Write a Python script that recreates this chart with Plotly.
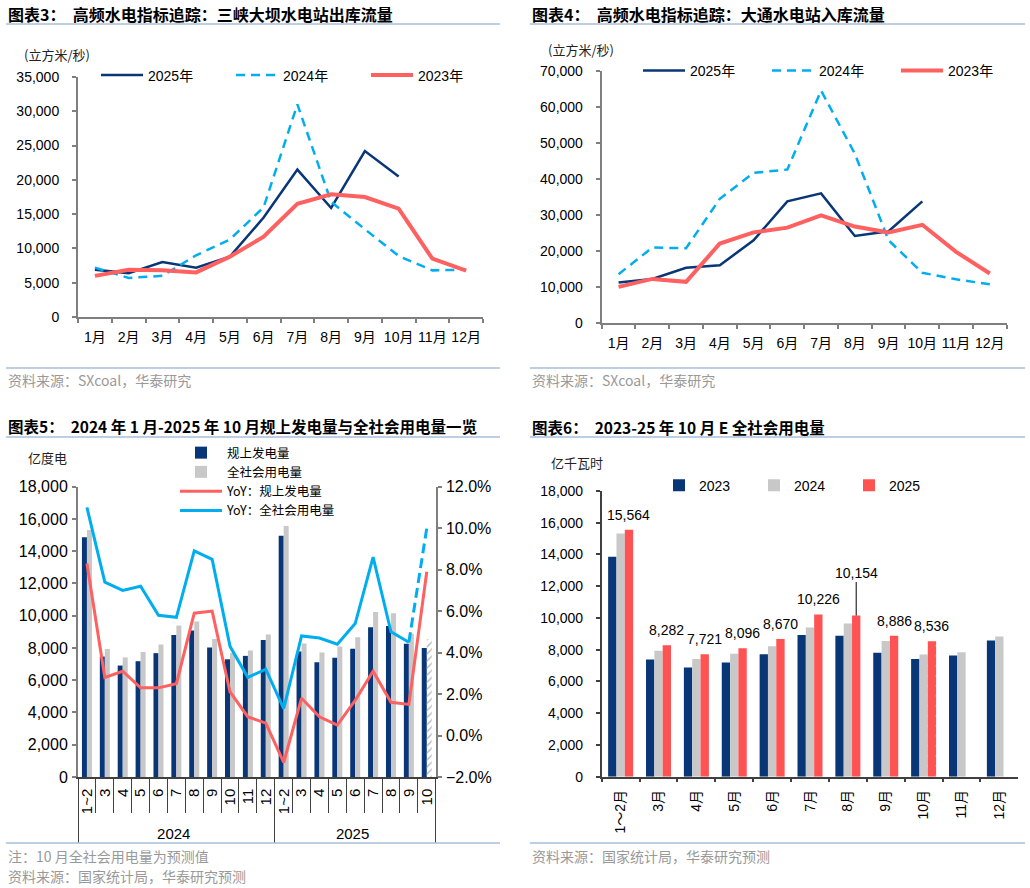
import plotly.graph_objects as go

W, H = 1030, 888
def px(x): return x / W
def py(y): return 1 - y / H

# ---------------- data ----------------
months = ["1月", "2月", "3月", "4月", "5月", "6月", "7月", "8月", "9月", "10月", "11月", "12月"]

# 图表3 三峡出库流量 (立方米/秒)
sx_2025 = [6900, 6400, 8000, 7200, 8800, 14500, 21500, 15900, 24200, 20500]
sx_2024 = [7200, 5700, 6000, 9000, 11300, 16000, 31000, 16800, 12800, 8900, 6800, 6900]
sx_2023 = [6000, 6900, 6800, 6500, 8800, 11700, 16500, 17900, 17500, 15800, 8500, 6750]

# 图表4 大通入库流量 (立方米/秒)
dt_2025 = [11300, 12300, 15400, 16100, 23000, 33800, 36000, 24200, 25500, 33800]
dt_2024 = [13600, 21000, 20800, 34500, 41700, 42600, 64500, 47000, 23000, 14000, 12200, 10800]
dt_2023 = [10100, 12300, 11500, 22100, 25200, 26500, 29900, 26800, 25200, 27300, 19800, 13800]

# 图表5
p5_years = ["2024"] * 11 + ["2025"] * 9
p5_months = ["1~2", "3", "4", "5", "6", "7", "8", "9", "10", "11", "12",
             "1~2", "3", "4", "5", "6", "7", "8", "9", "10"]
gen = [14870, 7470, 6910, 7180, 7680, 8810, 9080, 8030, 7300, 7510, 8500,
       14960, 7780, 7120, 7400, 7950, 9290, 9370, 8260, 8000]
cons = [15316, 7941, 7412, 7751, 8215, 9396, 9649, 8551, 7695, 7845, 8834,
        15564, 8282, 7721, 8096, 8670, 10226, 10154, 8886, 8536]
yoy_gen = [8.3, 2.8, 3.1, 2.3, 2.3, 2.5, 5.9, 6.0, 2.1, 0.9, 0.6,
           -1.3, 1.8, 0.9, 0.5, 1.7, 3.1, 1.6, 1.5, 7.9]
yoy_cons = [11.0, 7.4, 7.0, 7.2, 5.8, 5.7, 8.9, 8.5, 4.3, 2.8, 3.2,
            1.3, 4.8, 4.7, 4.4, 5.4, 8.6, 5.0, 4.5, 10.0]

# 图表6 全社会用电量 (亿千瓦时)
p6_cats = ["1～2月", "3月", "4月", "5月", "6月", "7月", "8月", "9月", "10月", "11月", "12月"]
c2023 = [13850, 7390, 6880, 7200, 7720, 8930, 8880, 7810, 7420, 7640, 8580]
c2024 = [15316, 7941, 7412, 7751, 8215, 9396, 9649, 8551, 7695, 7845, 8834]
c2025 = [15564, 8282, 7721, 8096, 8670, 10226, 10154, 8886, 8536, None, None]

# ---------------- styles ----------------
NAVY = "#083677"
LBLUE = "#00AEEF"
RED = "#FF6060"
REDBAR = "#FF5252"
GREY = "#C8C8C8"
AXC = "#7F7F7F"
FONT = "Liberation Sans, Arial, Noto Sans CJK SC"
CJK = "Noto Sans CJK SC, Liberation Sans"

fig = go.Figure()

# ---- Panel 1 ----
fig.add_trace(go.Scatter(x=months[:len(sx_2025)], y=sx_2025, name="2025年", mode="lines",
                         line=dict(color=NAVY, width=2.5), xaxis="x", yaxis="y", legend="legend"))
fig.add_trace(go.Scatter(x=months, y=sx_2024, name="2024年", mode="lines",
                         line=dict(color=LBLUE, width=2.5, dash="9px,6px"), xaxis="x", yaxis="y", legend="legend"))
fig.add_trace(go.Scatter(x=months, y=sx_2023, name="2023年", mode="lines",
                         line=dict(color=RED, width=4), xaxis="x", yaxis="y", legend="legend"))

# ---- Panel 2 ----
fig.add_trace(go.Scatter(x=months[:len(dt_2025)], y=dt_2025, name="2025年", mode="lines",
                         line=dict(color=NAVY, width=2.5), xaxis="x2", yaxis="y2", legend="legend2"))
fig.add_trace(go.Scatter(x=months, y=dt_2024, name="2024年", mode="lines",
                         line=dict(color=LBLUE, width=2.5, dash="9px,6px"), xaxis="x2", yaxis="y2", legend="legend2"))
fig.add_trace(go.Scatter(x=months, y=dt_2023, name="2023年", mode="lines",
                         line=dict(color=RED, width=4), xaxis="x2", yaxis="y2", legend="legend2"))

# ---- Panel 3 ----
p5_x = [p5_years, p5_months]
n5 = len(p5_months)
fig.add_trace(go.Bar(x=p5_x, y=gen, name="规上发电量", marker=dict(color=NAVY, line=dict(width=0)),
                     width=0.28, offset=-0.28, xaxis="x3", yaxis="y3", legend="legend3"))
fig.add_trace(go.Bar(x=p5_x, y=cons, name="全社会用电量",
                     marker=dict(color=GREY, line=dict(width=0),
                                 pattern=dict(shape=[""] * (n5 - 1) + ["/"], size=5, solidity=0.3,
                                              fgcolor="#BDBDBD", fillmode="replace")),
                     width=0.28, offset=0.0, xaxis="x3", yaxis="y3", legend="legend3"))
fig.add_trace(go.Scatter(x=p5_x, y=yoy_gen, name="YoY：规上发电量", mode="lines",
                         line=dict(color=RED, width=3), xaxis="x3", yaxis="y4", legend="legend3"))
fig.add_trace(go.Scatter(x=[p5_years[:-1], p5_months[:-1]], y=yoy_cons[:-1], name="YoY：全社会用电量", mode="lines",
                         line=dict(color=LBLUE, width=3), xaxis="x3", yaxis="y4", legend="legend3"))
fig.add_trace(go.Scatter(x=[p5_years[-2:], p5_months[-2:]], y=yoy_cons[-2:], name="YoY：全社会用电量", mode="lines",
                         line=dict(color=LBLUE, width=3, dash="10px,5px"), xaxis="x3", yaxis="y4",
                         showlegend=False, legend="legend3"))

# ---- Panel 4 ----
BW = 0.22
fig.add_trace(go.Bar(x=p6_cats, y=c2023, name="2023", marker=dict(color=NAVY, line=dict(width=0)),
                     width=BW, offset=-1.5 * BW, xaxis="x4", yaxis="y5", legend="legend4"))
fig.add_trace(go.Bar(x=p6_cats, y=c2024, name="2024", marker=dict(color=GREY, line=dict(width=0)),
                     width=BW, offset=-0.5 * BW, xaxis="x4", yaxis="y5", legend="legend4"))
fig.add_trace(go.Bar(x=p6_cats, y=c2025, name="2025",
                     marker=dict(color=REDBAR, line=dict(width=0),
                                 pattern=dict(shape=["" if c != "10月" else "." for c in p6_cats],
                                              size=10, solidity=0.04, fgcolor="white", fillmode="overlay")),
                     width=BW, offset=0.5 * BW, xaxis="x4", yaxis="y5", legend="legend4"))

# ---------------- axes ----------------
tickfont = dict(family=FONT, size=14, color="#000")

def yax(domain, rng, dtick, anchor, **kw):
    d = dict(domain=domain, range=rng, dtick=dtick, anchor=anchor, showgrid=False, zeroline=False,
             showline=True, linecolor=AXC, linewidth=2, ticks="outside", ticklen=4, tickcolor=AXC,
             tickwidth=1.5, tickfont=tickfont, tickformat=",", ticklabelstandoff=10, automargin=False)
    d.update(kw)
    return d

def xcat(domain, anchor, **kw):
    d = dict(domain=domain, anchor=anchor, type="category", range=[-0.5, 11.5], showgrid=False,
             showline=True, linecolor=AXC, linewidth=2, ticks="outside", ticklen=4, tickcolor=AXC,
             tickwidth=1.5, tickson="boundaries", tickfont=tickfont, tickangle=0, nticks=40,
             automargin=False)
    d.update(kw)
    return d

LEG = dict(bgcolor="rgba(0,0,0,0)", traceorder="normal")
layout = dict(
    width=W, height=H, margin=dict(l=0, r=0, t=0, b=0, autoexpand=False),
    paper_bgcolor="white", plot_bgcolor="white",
    font=dict(family=FONT, size=14, color="#000"),
    barmode="group",
    xaxis=xcat([px(78), px(483)], "y", ticklabelstandoff=6),
    yaxis=yax([py(317), py(77)], [0, 35000], 5000, "x"),
    xaxis2=xcat([px(601.7), px(1006.7)], "y2", ticklabelstandoff=6),
    yaxis2=yax([py(323.3), py(70.7)], [0, 70000], 10000, "x2"),
    xaxis3=dict(domain=[px(78), px(435.7)], anchor="y3", type="multicategory", range=[-0.5, 19.5],
                showgrid=False, showline=True, linecolor="#404040", linewidth=1.5, nticks=40,
                ticks="outside", ticklen=34, tickcolor="#404040", tickwidth=1.2, tickson="boundaries",
                tickangle=-90, tickfont=dict(family=FONT, size=15, color="#000"), automargin=False,
                showdividers=True, dividercolor="#404040", dividerwidth=1.2, ticklabelstandoff=4),
    yaxis3=yax([py(777), py(486.7)], [0, 18000], 2000, "x3", ticklabelstandoff=1,
               tickfont=dict(family=FONT, size=16, color="#000")),
    yaxis4=dict(overlaying="y3", side="right", anchor="x3", range=[-2, 12], dtick=2, ticksuffix="%",
                tickformat=".1f", showgrid=False, zeroline=False, showline=True, linecolor=AXC,
                linewidth=2, ticks="outside", ticklen=4, tickcolor=AXC, tickwidth=1.5, automargin=False,
                tickfont=dict(family=FONT, size=16, color="#000"), ticklabelstandoff=1),
    xaxis4=xcat([px(601.7), px(1018.3)], "y5", range=[-0.5, 10.5], tickangle=-90,
                linecolor="#404040", tickcolor="#404040", linewidth=1.5, ticklabelstandoff=6),
    yaxis5=yax([py(776.7), py(491)], [0, 18000], 2000, "x4", linecolor="#404040", tickcolor="#404040",
               linewidth=1.5),
    legend=dict(orientation="h", x=px(96), y=py(75.5), xanchor="left", yanchor="middle",
                font=dict(family=FONT, size=14), itemwidth=42, entrywidth=78, **LEG),
    legend2=dict(orientation="h", x=px(638), y=py(71), xanchor="left", yanchor="middle",
                 font=dict(family=FONT, size=14), itemwidth=42, entrywidth=72, **LEG),
    legend3=dict(orientation="v", x=px(175), y=py(438), xanchor="left", yanchor="top",
                 font=dict(family=CJK, size=12.5), itemwidth=42, tracegroupgap=0, **LEG),
    legend4=dict(orientation="h", x=px(659), y=py(485.7), xanchor="left", yanchor="middle",
                 font=dict(family=FONT, size=14), entrywidth=50, **LEG),
)
fig.update_layout(**layout)

# ---------------- text annotations ----------------
ann = []
def txt(x, y, s, size=13, color="#000", family=CJK, xanchor="left", yanchor="middle"):
    ann.append(dict(x=px(x), y=py(y), xref="paper", yref="paper", text=s, showarrow=False,
                    xanchor=xanchor, yanchor=yanchor, font=dict(family=family, size=size, color=color)))

TF = "Noto Sans CJK SC, Liberation Sans"
txt(6, 14, "<b>图表3：  高频水电指标追踪：三峡大坝水电站出库流量</b>", size=16, family=TF)
txt(530, 14, "<b>图表4：  高频水电指标追踪：大通水电站入库流量</b>", size=16, family=TF)
txt(6, 426, "<b>图表5：  2024 年 1 月-2025 年 10 月规上发电量与全社会用电量一览</b>", size=15.5, family=TF)
txt(530, 427, "<b>图表6：  2023-25 年 10 月 E 全社会用电量</b>", size=15.5, family=TF)

txt(22, 55, "(立方米/秒)", size=13, color="#222")
txt(546, 49, "(立方米/秒)", size=13, color="#222")
txt(26, 458, "亿度电", size=13, color="#222")
txt(549, 463, "亿千瓦时", size=13, color="#222")

FOOT = "#999999"
txt(6, 380, "资料来源：SXcoal，华泰研究", size=14, color=FOOT)
txt(530, 380, "资料来源：SXcoal，华泰研究", size=14, color=FOOT)
txt(6, 856, "注：10 月全社会用电量为预测值", size=14, color=FOOT)
txt(6, 876, "资料来源：国家统计局，华泰研究预测", size=14, color=FOOT)
txt(530, 856, "资料来源：国家统计局，华泰研究预测", size=14, color=FOOT)

# data labels on 2025 bars (panel 4)
cat_px = (1018.3 - 601.7) / len(p6_cats)
shift = BW * cat_px
for c, v in zip(p6_cats, c2025):
    if v is None:
        continue
    if c == "8月":
        ann.append(dict(x=c, y=v, xref="x4", yref="y5", text=f"{v:,}", showarrow=True, arrowhead=0,
                        arrowwidth=1, arrowcolor="#000", ax=0, ay=-43, xshift=shift, standoff=0,
                        font=dict(family=FONT, size=14, color="#000")))
    else:
        ann.append(dict(x=c, y=v, xref="x4", yref="y5", text=f"{v:,}", showarrow=False, xshift=shift,
                        yshift=5, yanchor="bottom", font=dict(family=FONT, size=14, color="#000")))

fig.update_layout(annotations=ann)

# separator lines
LC = "#A8BEDA"
shapes = []
for (x0, x1, y) in [(6, 500, 24), (530, 1025, 24), (6, 500, 368), (530, 1025, 368),
                    (6, 500, 437), (530, 1025, 437), (6, 500, 843), (530, 1025, 843)]:
    shapes.append(dict(type="line", xref="paper", yref="paper", x0=px(x0), x1=px(x1), y0=py(y), y1=py(y),
                       line=dict(color=LC, width=1.5)))
fig.update_layout(shapes=shapes)

fig.write_html("out.html")
